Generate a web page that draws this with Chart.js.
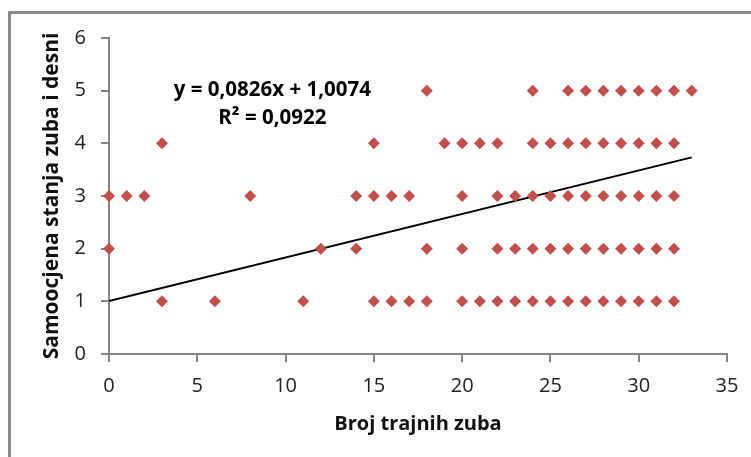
<!DOCTYPE html>
<html>
<head>
<meta charset="utf-8">
<script src="https://cdn.jsdelivr.net/npm/chart.js@4"></script>
<style>
  html, body { margin: 0; padding: 0; background: #fff; }
</style>
</head>
<body>
<canvas id="grafico" width="751" height="457"></canvas>
<script>
// number of permanent teeth observed at each self-assessment score
const teethScore1 = [3, 6, 11, 15, 16, 17, 18, 20, 21, 22, 23, 24, 25, 26, 27, 28, 29, 30, 31, 32]
const teethScore2 = [0, 12, 14, 18, 20, 22, 23, 24, 25, 26, 27, 28, 29, 30, 31, 32]
const teethScore3 = [0, 1, 2, 8, 14, 15, 16, 17, 20, 22, 23, 24, 25, 26, 27, 28, 29, 30, 31, 32]
const teethScore4 = [3, 15, 19, 20, 21, 22, 24, 25, 26, 27, 28, 29, 30, 31, 32]
const teethScore5 = [18, 24, 26, 27, 28, 29, 30, 31, 32, 33]
const scores = [1, 2, 3, 4, 5]

// trendline ends (from the Excel equation shown on the chart)
const trendX = [0, 33]
const trendY = [1.0074, 3.7332]
const trendLabel = ['y = 0,0826x + 1,0074', 'R² = 0,0922']

const xTicks = [0, 5, 10, 15, 20, 25, 30, 35]
const yTicks = [0, 1, 2, 3, 4, 5, 6]

const FONT = "'Open Sans', sans-serif"
const grey = '#868686'

const points = []
;[teethScore1, teethScore2, teethScore3, teethScore4, teethScore5].forEach((arr, i) => {
  arr.forEach(x => points.push({ x: x, y: scores[i] }))
})

const framePlugin = {
  id: 'frame',
  beforeDraw(chart) {
    const c = chart.ctx
    c.save()
    c.fillStyle = '#fff'
    c.fillRect(0, 0, chart.width, chart.height)
    c.strokeStyle = '#898989'
    c.lineWidth = 3
    c.strokeRect(9.5, 12.5, 900, 600)
    c.restore()
  },
  afterDatasetsDraw(chart) {
    const c = chart.ctx
    const xs = chart.scales.x, ys = chart.scales.y
    c.save()
    c.fillStyle = '#000'
    c.font = "bold 20.5px " + FONT
    c.textAlign = 'center'
    c.textBaseline = 'middle'
    c.fillText(trendLabel[0], xs.getPixelForValue(9.25), ys.getPixelForValue(5.01))
    c.fillText(trendLabel[1], xs.getPixelForValue(9.25), ys.getPixelForValue(4.47))
    c.restore()
  }
}

new Chart(document.getElementById('grafico'), {
  type: 'scatter',
  data: {
    datasets: [{
      data: points,
      clip: false,
      pointStyle: 'rectRot',
      pointRadius: 6,
      pointHoverRadius: 6,
      backgroundColor: '#C0504D',
      borderColor: '#C0504D',
      borderWidth: 0
    }, {
      type: 'line',
      data: trendX.map((x, i) => ({ x: x, y: trendY[i] })),
      borderColor: '#000',
      borderWidth: 2,
      pointRadius: 0,
      fill: false
    }]
  },
  options: {
    responsive: false,
    animation: false,
    devicePixelRatio: 1,
    layout: { padding: { top: 38, right: 24, left: 0, bottom: 0 } },
    plugins: { legend: { display: false }, tooltip: { enabled: false } },
    scales: {
      x: {
        type: 'linear',
        min: 0, max: 35,
        afterBuildTicks: s => { s.ticks = xTicks.map(v => ({ value: v })) },
        afterFit: s => { s.height = 103 },
        grid: { drawOnChartArea: false, color: grey, lineWidth: 2, tickLength: 8 },
        border: { color: grey, width: 2 },
        ticks: { color: '#222', font: { family: FONT, size: 20 }, padding: 12 },
        title: { display: true, text: 'Broj trajnih zuba', color: '#111', font: { family: FONT, size: 20, weight: 'bold' }, padding: { top: 4, bottom: 21 } }
      },
      y: {
        min: 0, max: 6,
        afterBuildTicks: s => { s.ticks = yTicks.map(v => ({ value: v })) },
        afterFit: s => { s.width = 109 },
        grid: { drawOnChartArea: false, color: grey, lineWidth: 2, tickLength: 8 },
        border: { color: grey, width: 2 },
        ticks: { color: '#222', font: { family: FONT, size: 20 }, padding: 15 },
        title: { display: true, text: 'Samoocjena stanja zuba i desni', color: '#111', font: { family: FONT, size: 21, weight: 'bold' }, padding: { top: 39, bottom: 4 } }
      }
    }
  },
  plugins: [framePlugin]
})
</script>
</body>
</html>
